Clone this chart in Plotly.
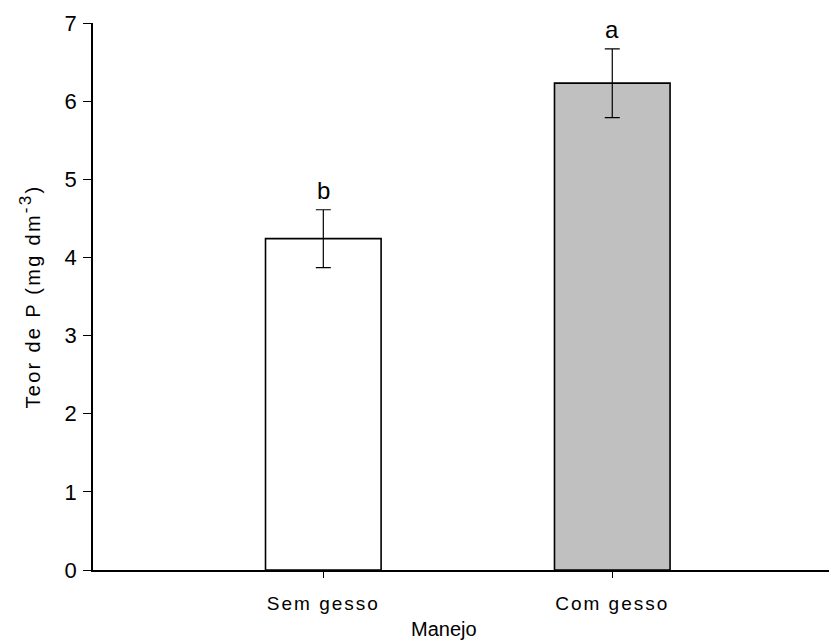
import plotly.graph_objects as go

categories = ["Sem gesso", "Com gesso"]
values = [4.24, 6.23]
errors = [0.37, 0.44]
letters = ["b", "a"]
colors = ["#FFFFFF", "#C0C0C0"]
y_ticks = [0, 1, 2, 3, 4, 5, 6, 7]

FONT = "Liberation Sans, Arial, sans-serif"

fig = go.Figure()
fig.add_trace(go.Bar(
    x=[0, 1], y=values, width=0.4,
    marker=dict(color=colors, line=dict(color="black", width=1.6)),
    error_y=dict(type="data", array=errors, visible=True, color="black", thickness=1.2, width=7.5),
    showlegend=False,
))

for i, (v, e, l) in enumerate(zip(values, errors, letters)):
    fig.add_annotation(x=i, y=v + e, text=l, showarrow=False, yanchor="bottom",
                       yshift=4, font=dict(family=FONT, size=24, color="black"))

# x-axis title (placed slightly left of the plot centre, as in the reference)
fig.add_annotation(xref="paper", yref="paper", x=0.477, y=-0.108, text="Manejo",
                   showarrow=False, xanchor="center", yanchor="middle",
                   font=dict(family=FONT, size=20, color="black"))

fig.update_layout(
    width=831, height=641,
    margin=dict(l=93, r=2, t=23, b=71),
    plot_bgcolor="white", paper_bgcolor="white",
    font=dict(family=FONT, color="black"),
)
fig.update_xaxes(
    range=[-0.797, 1.75], tickmode="array", tickvals=[0, 1], ticktext=categories,
    showline=True, linecolor="black", linewidth=1.5, ticks="outside", ticklen=6,
    tickcolor="black", showgrid=False, zeroline=False,
    tickfont=dict(size=19), ticklabelstandoff=9,
)
fig.update_yaxes(
    range=[0, 7], tickmode="array", tickvals=y_ticks,
    showline=True, linecolor="black", linewidth=1.5, ticks="outside", ticklen=8,
    tickcolor="black", showgrid=False, zeroline=False,
    tickfont=dict(size=22), ticklabelstandoff=2,
    title=dict(text="Teor de P (mg dm<sup><span style=\"font-size:17px\">-3</span></sup>)",
               font=dict(size=20), standoff=19),
)

css = "g.xtick text, text.xtick{letter-spacing:2px} text.ytitle{letter-spacing:2.3px}"
post = ("var s=document.createElement('style');s.textContent='" + css +
        "';document.head.appendChild(s);")
fig.write_html("out.html", post_script=post)
